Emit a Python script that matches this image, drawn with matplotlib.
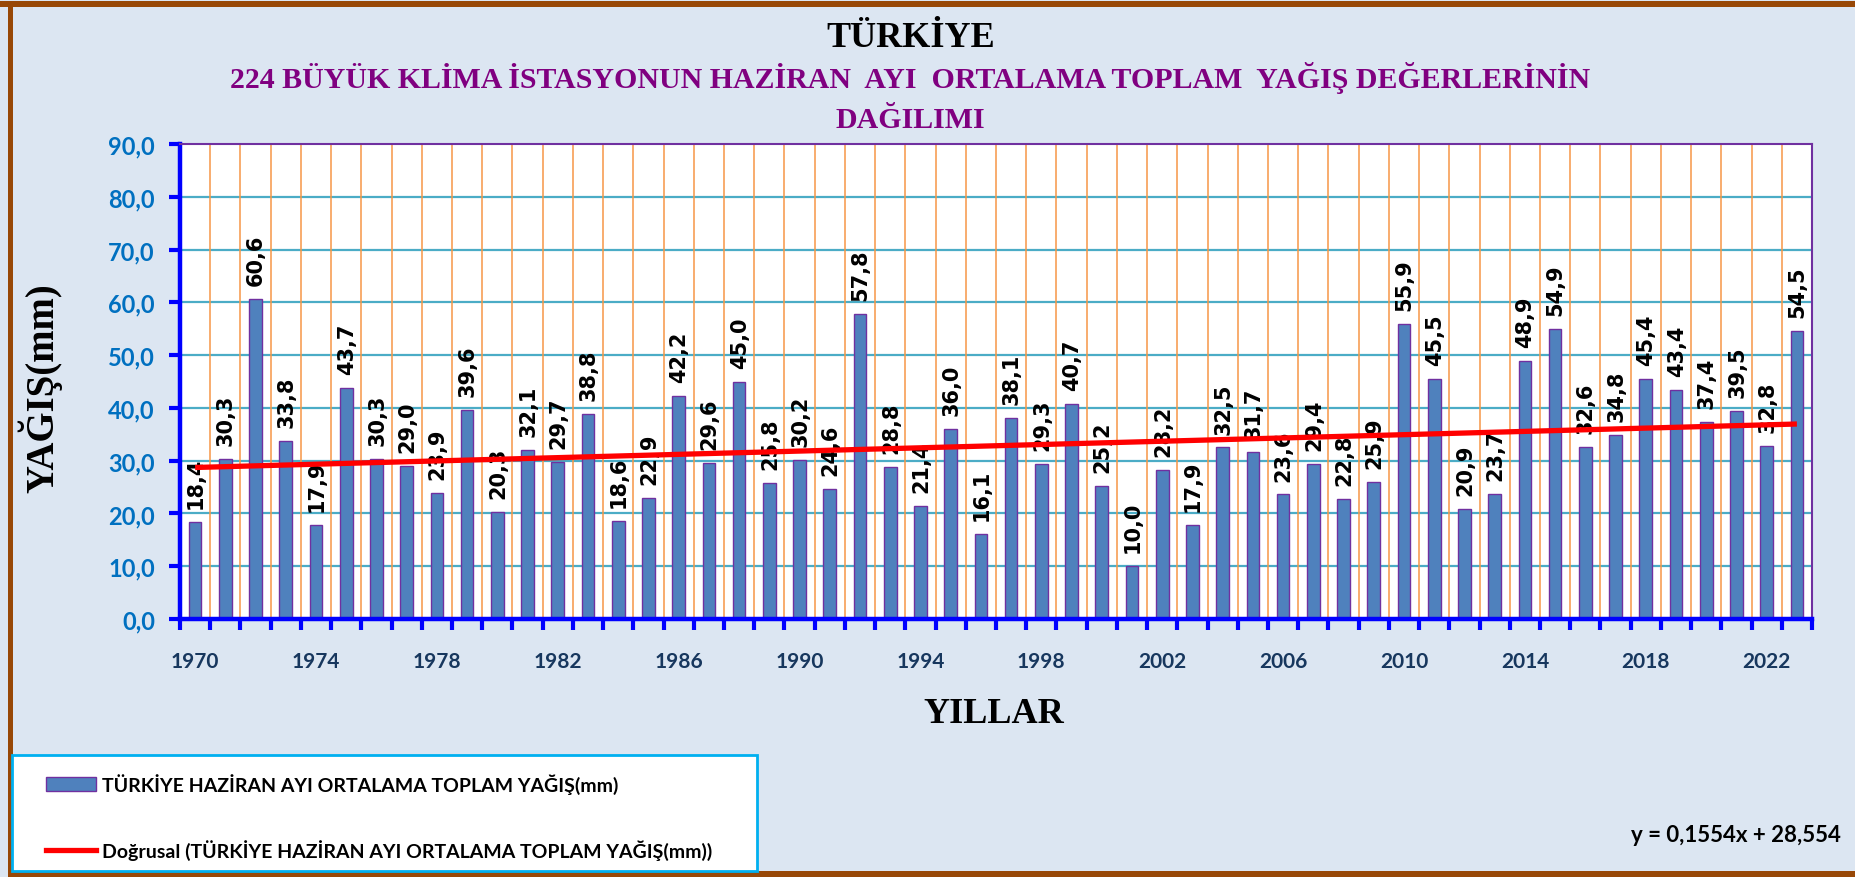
import numpy as np
import matplotlib
matplotlib.use("Agg")
import matplotlib.pyplot as plt
from matplotlib.patches import Rectangle, Patch
from matplotlib.lines import Line2D

# ---------------- data ----------------
years = list(range(1970, 2024))
rain = [18.4, 30.3, 60.6, 33.8, 17.9, 43.7, 30.3, 29.0, 23.9, 39.6,
        20.3, 32.1, 29.7, 38.8, 18.6, 22.9, 42.2, 29.6, 45.0, 25.8,
        30.2, 24.6, 57.8, 28.8, 21.4, 36.0, 16.1, 38.1, 29.3, 40.7,
        25.2, 10.0, 28.2, 17.9, 32.5, 31.7, 23.6, 29.4, 22.8, 25.9,
        55.9, 45.5, 20.9, 23.7, 48.9, 54.9, 32.6, 34.8, 45.4, 43.4,
        37.4, 39.5, 32.8, 54.5]
trend_slope = 0.1554
trend_intercept = 28.554
year_labels = [1970, 1974, 1978, 1982, 1986, 1990, 1994, 1998, 2002, 2006,
               2010, 2014, 2018, 2022]
y_ticks = [0, 10, 20, 30, 40, 50, 60, 70, 80, 90]

title1 = "TÜRKİYE"
title2 = "224 BÜYÜK KLİMA İSTASYONUN HAZİRAN  AYI  ORTALAMA TOPLAM  YAĞIŞ DEĞERLERİNİN"
title3 = "DAĞILIMI"
ylabel = "YAĞIŞ(mm)"
xlabel = "YILLAR"
legend_bar = "TÜRKİYE HAZİRAN AYI ORTALAMA TOPLAM YAĞIŞ(mm)"
legend_line = "Doğrusal (TÜRKİYE HAZİRAN AYI ORTALAMA TOPLAM YAĞIŞ(mm))"
equation = "y = 0,1554x + 28,554"

# ---------------- figure ----------------
W, H = 1856, 878
BG = "#DCE6F2"
BROWN = "#984807"
fig = plt.figure(figsize=(W / 100, H / 100), dpi=100, facecolor=BG)

def fx(px):
    return px / W

def fy(py):
    return 1 - py / H

# frame
fig.add_artist(Rectangle((0, fy(8)), 1, 6 / H, transform=fig.transFigure,
                         facecolor=BROWN, edgecolor="none", zorder=0))
fig.add_artist(Rectangle((fx(8), 0), 5 / W, 1 - 2 / H, transform=fig.transFigure,
                         facecolor=BROWN, edgecolor="none", zorder=0))
fig.add_artist(Rectangle((fx(8), 0), 1, 6 / H, transform=fig.transFigure,
                         facecolor=BROWN, edgecolor="none", zorder=0))

ax = fig.add_axes([fx(180), fy(620), (1812 - 180) / W, (620 - 145) / H])
ax.set_facecolor("white")

x = np.arange(len(years))
bars = ax.bar(x, rain, width=0.42, color="#4F81BD", edgecolor="#7030A0",
              linewidth=1.0, zorder=2)

for xi, v in zip(x, rain):
    ax.annotate(f"{v:.1f}".replace(".", ","), (xi, v), xytext=(0.5, 10),
                textcoords="offset points", rotation=90, ha="center", va="bottom",
                fontsize=15, fontweight="bold", family="DejaVu Sans",
                color="black", zorder=3)

xt = np.array([x[0], x[-1]])
trend = trend_slope * (xt + 1) + trend_intercept
ax.plot(xt, trend, color="#FF0000", lw=3.8, zorder=4, solid_capstyle="butt")

ax.set_xlim(-0.5, len(years) - 0.5)
ax.set_ylim(0, 90)

# grid
for yv in y_ticks[1:-1]:
    ax.axhline(yv, color="#4BACC6", lw=1.6, zorder=1)
for b in np.arange(0.5, len(years) - 0.5, 1):
    ax.axvline(b, color="#F79646", lw=1.1, zorder=1)

# spines
for s in ["left", "bottom"]:
    ax.spines[s].set_color("#0000FF")
    ax.spines[s].set_linewidth(3.2)
for s in ["top", "right"]:
    ax.spines[s].set_color("#7030A0")
    ax.spines[s].set_linewidth(1.5)

ax.set_yticks(y_ticks)
ax.set_yticklabels([f"{v:.1f}".replace(".", ",") for v in y_ticks])
ax.tick_params(axis="y", length=8, width=3, color="#0000FF", pad=10,
               labelsize=17, labelcolor="#0070C0")
for t in ax.get_yticklabels():
    t.set_fontfamily("Lato")
    t.set_fontweight("bold")

ax.set_xticks(np.arange(-0.5, len(years), 1))
ax.set_xticklabels([])
ax.tick_params(axis="x", which="major", length=8, width=3, color="#0000FF")
ax.set_xticks([years.index(y) for y in year_labels], minor=True)
ax.set_xticklabels([str(y) for y in year_labels], minor=True)
ax.tick_params(axis="x", which="minor", length=0, pad=23, labelsize=15,
               labelcolor="#17375E")
for t in ax.get_xticklabels(minor=True):
    t.set_fontfamily("Lato")
    t.set_fontweight("bold")

# titles
fig.text(fx(911), fy(47), title1, ha="center", va="baseline", fontsize=26,
         family="Liberation Serif", fontweight="bold", color="black")
fig.text(fx(910), fy(88), title2, ha="center", va="baseline", fontsize=21.5,
         family="Liberation Serif", fontweight="bold", color="#800080")
fig.text(fx(910), fy(128), title3, ha="center", va="baseline", fontsize=21.5,
         family="Liberation Serif", fontweight="bold", color="#800080")

fig.text(fx(40), fy(388), ylabel, rotation=90, ha="center", va="center",
         fontsize=28, family="Liberation Serif", fontweight="bold", color="black")
fig.text(fx(994), fy(715), xlabel, ha="center", va="center", fontsize=26,
         family="Liberation Serif", fontweight="bold", color="black")

# legend box
fig.add_artist(Rectangle((fx(12), fy(872)), (757 - 12) / W, (872 - 756) / H,
                         transform=fig.transFigure, facecolor="white",
                         edgecolor="#00B0F0", lw=2, zorder=1))
handles = [Patch(facecolor="#4F81BD", edgecolor="#7030A0", lw=1.0),
           Line2D([0], [0], color="#FF0000", lw=3.8)]
leg = fig.legend(handles, [legend_bar, legend_line], loc="upper left",
                 bbox_to_anchor=(fx(36), fy(764)), frameon=False, borderpad=0,
                 handlelength=2.6, handletextpad=0.3, labelspacing=2.35,
                 prop={"family": "Lato", "weight": "bold", "size": 14})
leg.set_zorder(2)

fig.text(fx(1841), fy(842), equation, ha="right", va="baseline", fontsize=16,
         family="Lato", fontweight="bold", color="black")

fig.savefig("out.png", dpi=100, facecolor=BG)
